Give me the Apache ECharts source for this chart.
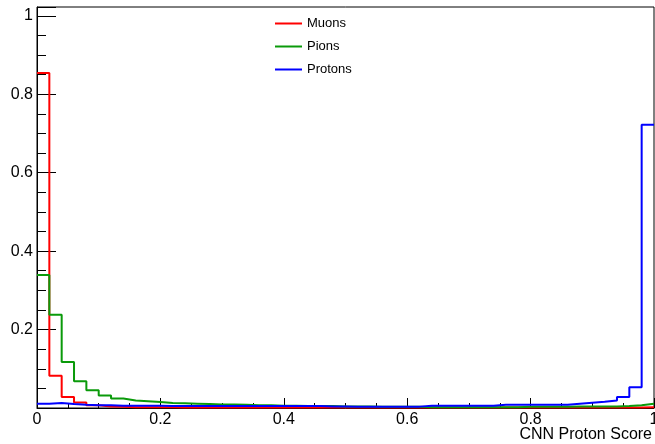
<!DOCTYPE html>
<html>
<head>
<meta charset="utf-8">
<script src="https://cdn.jsdelivr.net/npm/echarts@6/dist/echarts.min.js"></script>
<style>
  html, body { margin: 0; padding: 0; background: #fff; }
  #chart { width: 655px; height: 444px; }
</style>
</head>
<body>
<div id="chart"></div>
<script>
// 50 bins of width 0.02 on [0, 1]
const binWidth = 0.02;
const xTicks = [0, 0.2, 0.4, 0.6, 0.8, 1];
const seriesNames = ['Muons', 'Pions', 'Protons'];
const xTitle = 'CNN Proton Score';

const muons = [
  0.854, 0.082, 0.028, 0.014, 0.007, 0.004, 0.003, 0.002, 0.002, 0.002,
  0.002, 0.001, 0.001, 0.001, 0.001, 0.001, 0.001, 0.001, 0.001, 0.001,
  0.001, 0.001, 0.001, 0.001, 0.001, 0.001, 0.001, 0.001, 0.001, 0.001,
  0.001, 0.001, 0.001, 0.001, 0.001, 0.001, 0.001, 0.001, 0.001, 0.001,
  0.001, 0.001, 0.001, 0.001, 0.001, 0.001, 0.001, 0.001, 0.001, 0.002
];
const pions = [
  0.339, 0.238, 0.117, 0.068, 0.045, 0.032, 0.024, 0.019, 0.017, 0.015,
  0.0125, 0.012, 0.011, 0.010, 0.009, 0.009, 0.008, 0.007, 0.007, 0.006,
  0.006, 0.005, 0.005, 0.005, 0.004, 0.004, 0.004, 0.003, 0.003, 0.003,
  0.003, 0.002, 0.002, 0.002, 0.002, 0.002, 0.002, 0.002, 0.002, 0.003,
  0.003, 0.003, 0.003, 0.004, 0.004, 0.004, 0.004, 0.005, 0.007, 0.011
];
const protons = [
  0.011, 0.013, 0.010, 0.008, 0.007, 0.007, 0.006, 0.006, 0.006, 0.006,
  0.005, 0.005, 0.005, 0.005, 0.005, 0.005, 0.005, 0.005, 0.005, 0.005,
  0.005, 0.005, 0.005, 0.004, 0.004, 0.0035, 0.0035, 0.0035, 0.0035, 0.0035,
  0.0035, 0.006, 0.006, 0.006, 0.006, 0.006, 0.006, 0.008, 0.008, 0.008,
  0.008, 0.008, 0.008, 0.011, 0.0135, 0.016, 0.019, 0.028, 0.053, 0.722
];
const colors = ['#ff0000', '#0a9a0a', '#0000ff'];

const font = 'Liberation Sans, Arial, Helvetica, sans-serif';

// histogram outline: one point per lower bin edge, plus the last upper edge
const toSteps = (vals) => {
  let pts = vals.map((v, i) => [i * binWidth, v]);
  pts.push([vals.length * binWidth, vals[vals.length - 1]]);
  return pts;
};

const chart = echarts.init(document.getElementById('chart'), null, { renderer: 'canvas' });

const legendTops = [17, 40, 63];

const option = {
  animation: false,
  backgroundColor: '#fff',
  textStyle: { fontFamily: font },
  grid: {
    left: 37, right: 1, top: 7, bottom: 36,
    show: true, borderColor: '#000', borderWidth: 1,
    containLabel: false, outerBoundsMode: 'none'
  },
  legend: seriesNames.map((n, i) => ({
    data: [n],
    left: 275,
    top: legendTops[i],
    padding: 0,
    icon: 'rect',
    itemWidth: 27,
    itemHeight: 2,
    textStyle: { fontFamily: font, fontSize: 13, color: '#000' },
    selectedMode: false
  })),
  // axis title, right-aligned under the x axis like ROOT does it
  graphic: [{
    type: 'text',
    right: 3,
    top: 427,
    style: { text: xTitle, font: '16px ' + font, fill: '#000' }
  }],
  xAxis: {
    type: 'value',
    min: 0, max: 1, interval: 0.2,
    axisLine: { show: true, lineStyle: { color: '#000', width: 1 } },
    axisTick: { show: true, inside: true, length: 10, lineStyle: { color: '#000', width: 1 } },
    minorTick: { show: true, splitNumber: 4, length: 5, lineStyle: { color: '#000', width: 1 } },
    splitLine: { show: false },
    axisLabel: {
      margin: 4, fontFamily: font, fontSize: 16, color: '#000',
      formatter: (v) => {
        let r = Math.round(v * 10) / 10;
        return xTicks.includes(r) ? String(r) : '';
      }
    }
  },
  yAxis: {
    type: 'value',
    min: 0, max: 1.0225, interval: 0.2,
    axisLine: { show: true, lineStyle: { color: '#000', width: 1 } },
    axisTick: { show: true, inside: true, length: 19, lineStyle: { color: '#000', width: 1 } },
    minorTick: { show: true, splitNumber: 4, length: 9, lineStyle: { color: '#000', width: 1 } },
    splitLine: { show: false },
    axisLabel: {
      margin: 4, fontFamily: font, fontSize: 16, color: '#000',
      formatter: (v) => {
        let k = v / 0.2;
        if (v <= 0 || Math.abs(k - Math.round(k)) > 1e-6) return '';
        return String(Math.round(v * 10) / 10);
      }
    }
  },
  series: [muons, pions, protons].map((vals, i) => ({
    name: seriesNames[i],
    type: 'line',
    step: 'end',
    data: toSteps(vals),
    symbol: 'none',
    showSymbol: false,
    color: colors[i],
    lineStyle: { color: colors[i], width: 2 },
    emphasis: { disabled: true }
  }))
};

chart.setOption(option);
</script>
</body>
</html>
